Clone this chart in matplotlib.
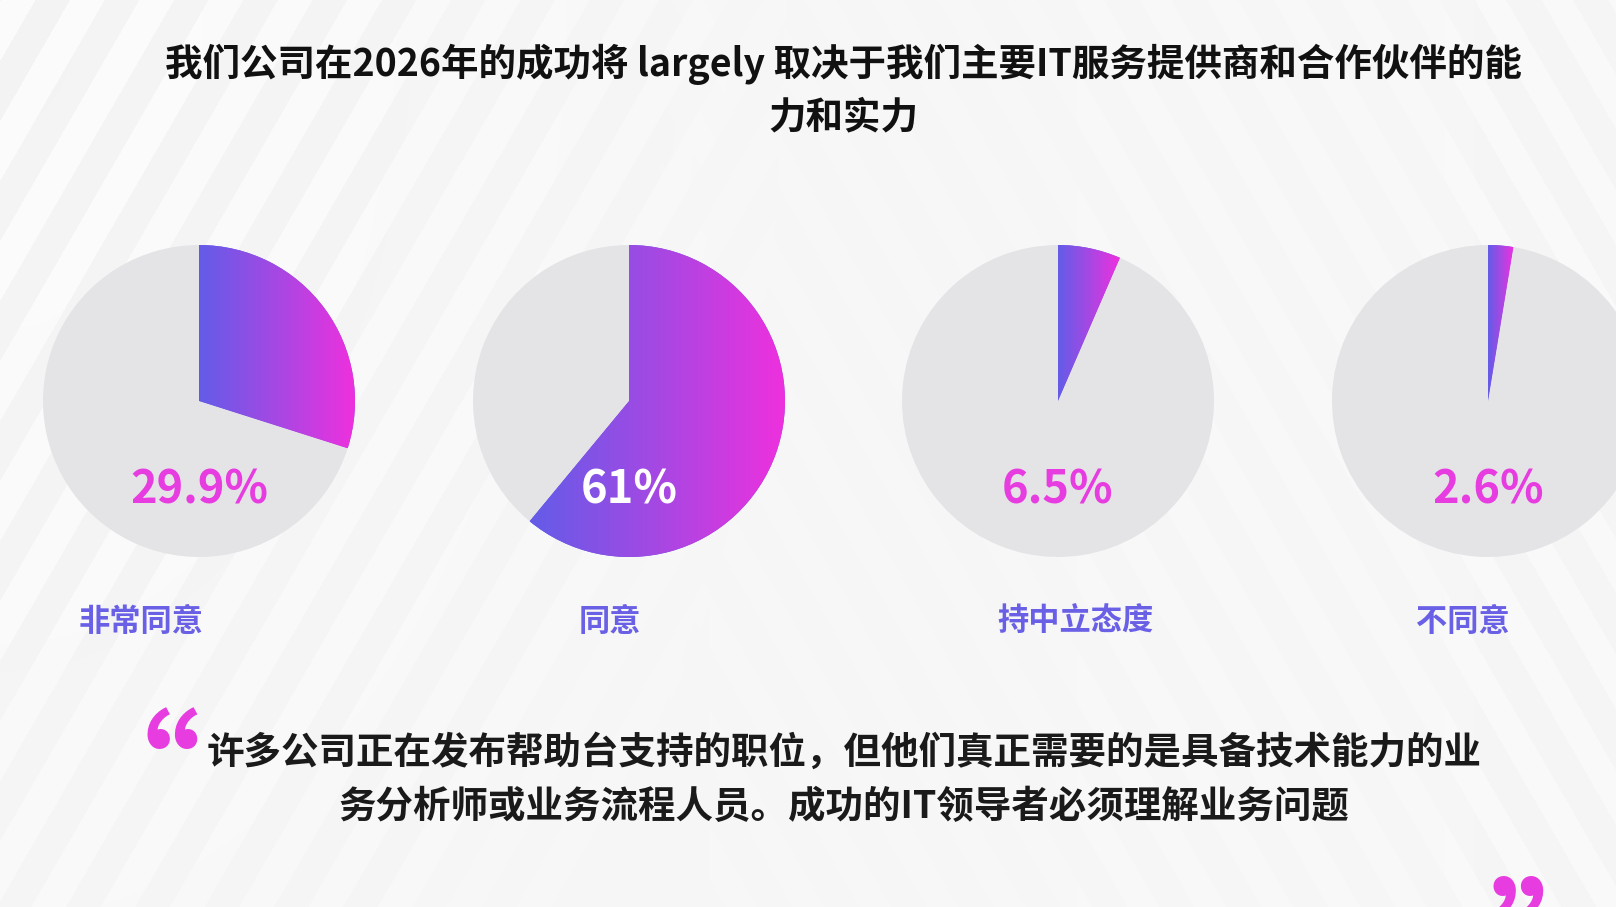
import numpy as np
import matplotlib
matplotlib.use("Agg")
import matplotlib.pyplot as plt
from matplotlib.colors import LinearSegmentedColormap

plt.rcParams['font.family'] = ['Noto Sans CJK SC', 'DejaVu Sans']

# data
categories = ['非常同意', '同意', '持中立态度', '不同意']
shares = [29.9, 61.0, 6.5, 2.6]
pct_labels = ['29.9%', '61%', '6.5%', '2.6%']

title_lines = ['我们公司在2026年的成功将 largely 取决于我们主要IT服务提供商和合作伙伴的能',
               '力和实力']
quote_lines = ['许多公司正在发布帮助台支持的职位，但他们真正需要的是具备技术能力的业',
               '务分析师或业务流程人员。成功的IT领导者必须理解业务问题']

# layout (pixels, y up)
W, H = 1616, 907
pie_x = [199, 629, 1058, 1488]
pie_y = 506
pie_r = 156
label_x = [141, 610, 1075, 1463]

GRAY = '#e4e4e6'
BLUE = '#635ce8'
MAGENTA = '#ef30de'
PCT_COLOR = '#e63ce0'
LABEL_COLOR = '#6a60e6'

grad = LinearSegmentedColormap.from_list('grad', [BLUE, '#a648e3', MAGENTA])

fig = plt.figure(figsize=(W / 100, H / 100), dpi=100)
ax = fig.add_axes([0, 0, 1, 1])

# background with faint diagonal stripes
yy, xx = np.mgrid[0:H, 0:W].astype(float)
s60, c60 = np.sin(np.radians(60)), np.cos(np.radians(60))
left = (np.sin(2 * np.pi * (xx * s60 + yy * c60) / 60) > 0.0).astype(float)
right = (np.sin(2 * np.pi * (xx * s60 - yy * c60) / 58) > 0.1).astype(float)
wl = np.clip(1 - np.hypot(xx / 800, yy / 1300), 0, 1) ** 0.7
wr = np.clip((xx - 650) / 900, 0, 1) * 0.6
v = 0.968 + wl * (left * 0.032 - 0.012) + wr * (right * 0.022 - 0.006)
v = np.clip(v, 0, 1)
bg = np.dstack([v, v, v + 0.003])
ax.imshow(np.clip(bg, 0, 1), extent=[0, W, 0, H], origin='upper',
          aspect='auto', zorder=0)

# pies
for i, val in enumerate(shares):
    wedges, _ = ax.pie([val, 100 - val], colors=[BLUE, GRAY], startangle=90,
                       counterclock=False, radius=pie_r,
                       center=(pie_x[i], pie_y), frame=True,
                       wedgeprops=dict(linewidth=0))
    for w in wedges:
        w.set_zorder(2)
    wg = wedges[0]
    ext = wg.get_path().get_extents()
    im = ax.imshow(np.linspace(0, 1, 256)[None, :], cmap=grad,
                   extent=[ext.x0, ext.x1, ext.y0, ext.y1], origin='lower',
                   aspect='auto', interpolation='bicubic', zorder=3)
    im.set_clip_path(wg)

    txt_color = 'white' if val > 50 else PCT_COLOR
    ax.text(pie_x[i], 416, pct_labels[i], ha='center', va='center',
            fontsize=32.5, fontweight='bold', color=txt_color, zorder=5)
    ax.text(label_x[i], 285, categories[i], ha='center', va='center',
            fontsize=22.5, fontweight='bold', color=LABEL_COLOR, zorder=5)

# title
ax.text(843, 843, title_lines[0], ha='center', va='center',
        fontsize=27, fontweight='bold', color='#111111', zorder=5)
ax.text(843, 790, title_lines[1], ha='center', va='center',
        fontsize=27, fontweight='bold', color='#111111', zorder=5)

# quote
ax.text(844, 155, quote_lines[0], ha='center', va='center',
        fontsize=27, fontweight='bold', color='#1a1a1a', zorder=5)
ax.text(844, 101, quote_lines[1], ha='center', va='center',
        fontsize=27, fontweight='bold', color='#1a1a1a', zorder=5)
ax.text(133, 84, '\u201c', ha='center', va='baseline', fontsize=97,
        fontweight='heavy', family='Noto Sans CJK SC', color=PCT_COLOR,
        zorder=5)
ax.text(1557, -83, '\u201d', ha='center', va='baseline', fontsize=97,
        fontweight='heavy', family='Noto Sans CJK SC', color=PCT_COLOR,
        zorder=5)

ax.set_xlim(0, W)
ax.set_ylim(0, H)
ax.axis('off')

fig.savefig('out.png', dpi=100)
